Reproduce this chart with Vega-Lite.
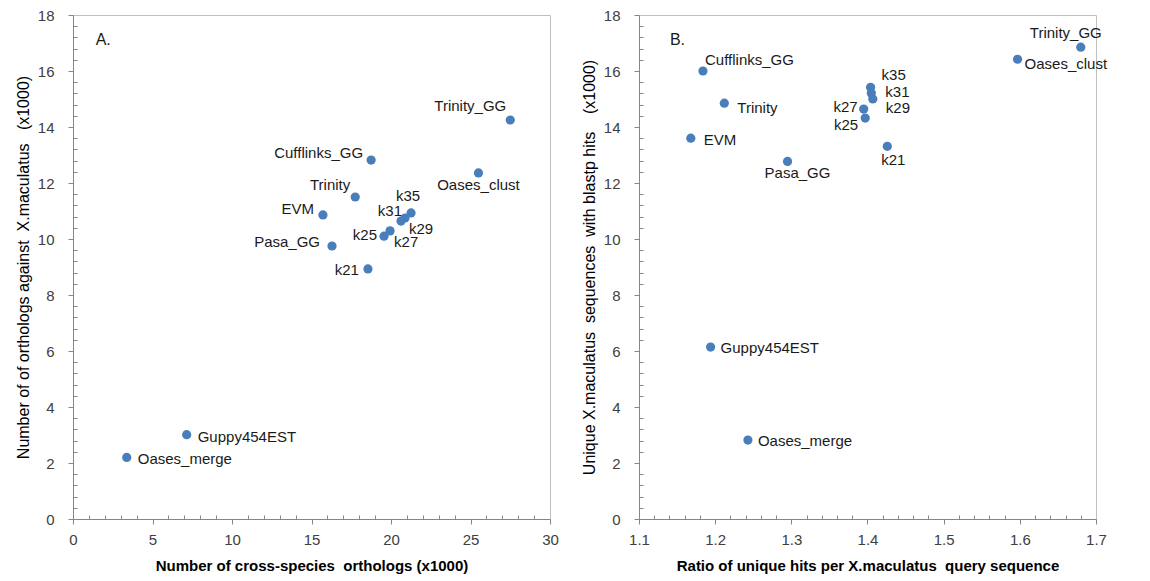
{
  "$schema": "https://vega.github.io/schema/vega-lite/v6.json",
  "background": "white",
  "padding": {"left": 14, "top": 7, "right": 5, "bottom": 5},
  "spacing": 21,
  "config": {
    "font": "Liberation Sans",
    "view": {"stroke": "#bfbfbf", "strokeWidth": 1},
    "axis": {"grid": false, "domainColor": "#868686", "tickColor": "#868686", "labelColor": "#404040", "labelFontSize": 15, "labelFont": "Liberation Sans", "titleFont": "Liberation Sans", "titleColor": "#000000", "labelOverlap": false, "labelFlush": false, "tickSize": 5},
    "text": {"font": "Liberation Sans", "fontSize": 15, "color": "#1a1a1a"}
  },
  "datasets": {
    "pts": [
      {"name": "Trinity_GG", "ax": 27.5, "ay": 14.25, "bx": 1.68, "by": 16.85},
      {"name": "Cufflinks_GG", "ax": 18.75, "ay": 12.82, "bx": 1.184, "by": 16.0},
      {"name": "Oases_clust", "ax": 25.5, "ay": 12.36, "bx": 1.597, "by": 16.42},
      {"name": "Trinity", "ax": 17.75, "ay": 11.5, "bx": 1.212, "by": 14.85},
      {"name": "EVM", "ax": 15.72, "ay": 10.86, "bx": 1.168, "by": 13.6},
      {"name": "k35", "ax": 21.26, "ay": 10.93, "bx": 1.404, "by": 15.42},
      {"name": "k31", "ax": 20.88, "ay": 10.75, "bx": 1.405, "by": 15.21},
      {"name": "k29", "ax": 20.63, "ay": 10.64, "bx": 1.407, "by": 15.0},
      {"name": "k27", "ax": 19.94, "ay": 10.29, "bx": 1.395, "by": 14.64},
      {"name": "k25", "ax": 19.56, "ay": 10.1, "bx": 1.397, "by": 14.32},
      {"name": "Pasa_GG", "ax": 16.29, "ay": 9.75, "bx": 1.295, "by": 12.77},
      {"name": "k21", "ax": 18.55, "ay": 8.93, "bx": 1.426, "by": 13.31},
      {"name": "Guppy454EST", "ax": 7.15, "ay": 3.01, "bx": 1.194, "by": 6.14},
      {"name": "Oases_merge", "ax": 3.38, "ay": 2.2, "bx": 1.243, "by": 2.82}
    ]
  },
  "hconcat": [
    {
      "width": 477,
      "height": 504,
      "resolve": {"axis": {"x": "independent", "y": "independent"}},
      "layer": [
        {
          "data": {"name": "pts"},
          "encoding": {
            "x": {"field": "ax", "type": "quantitative",
              "scale": {"domain": [0, 30], "nice": false, "zero": false},
              "axis": {"orient": "bottom", "title": "Number of cross-species\u00a0\u00a0orthologs (x1000)\u00a0\u00a0\u00a0\u00a0\u00a0\u00a0\u00a0", "titleFontSize": 15, "titleFontWeight": "bold", "titlePadding": 11, "labelPadding": 8,
                "values": [0, 5, 10, 15, 20, 25, 30], "format": "d"}},
            "y": {"field": "ay", "type": "quantitative",
              "scale": {"domain": [0, 18], "nice": false, "zero": false},
              "axis": {"orient": "left", "title": "Number of of orthologs against\u00a0\u00a0X.maculatus\u00a0\u00a0\u00a0(x1000)\u00a0\u00a0\u00a0\u00a0\u00a0", "titleFontSize": 16, "titleFontWeight": "normal", "titlePadding": 6, "labelPadding": 14,
                "values": [0, 2, 4, 6, 8, 10, 12, 14, 16, 18], "format": "d"}}
          },
          "layer": [
            {"mark": {"type": "circle", "size": 85, "color": "#4a7ebb", "opacity": 1}},
            {"transform": [{"filter": "datum.name === 'Trinity_GG'"}], "mark": {"type": "text", "align": "right", "baseline": "middle", "dx": -4, "dy": -14}, "encoding": {"text": {"field": "name"}}},
            {"transform": [{"filter": "datum.name === 'Cufflinks_GG'"}], "mark": {"type": "text", "align": "right", "baseline": "middle", "dx": -8, "dy": -7}, "encoding": {"text": {"field": "name"}}},
            {"transform": [{"filter": "datum.name === 'Oases_clust'"}], "mark": {"type": "text", "align": "center", "baseline": "middle", "dx": 0, "dy": 12}, "encoding": {"text": {"field": "name"}}},
            {"transform": [{"filter": "datum.name === 'Trinity'"}], "mark": {"type": "text", "align": "right", "baseline": "middle", "dx": -5, "dy": -12}, "encoding": {"text": {"field": "name"}}},
            {"transform": [{"filter": "datum.name === 'EVM'"}], "mark": {"type": "text", "align": "right", "baseline": "middle", "dx": -9, "dy": -6}, "encoding": {"text": {"field": "name"}}},
            {"transform": [{"filter": "datum.name === 'k35'"}], "mark": {"type": "text", "align": "center", "baseline": "middle", "dx": -3, "dy": -17}, "encoding": {"text": {"field": "name"}}},
            {"transform": [{"filter": "datum.name === 'k31'"}], "mark": {"type": "text", "align": "right", "baseline": "middle", "dx": -3, "dy": -7}, "encoding": {"text": {"field": "name"}}},
            {"transform": [{"filter": "datum.name === 'k29'"}], "mark": {"type": "text", "align": "left", "baseline": "middle", "dx": 8, "dy": 8}, "encoding": {"text": {"field": "name"}}},
            {"transform": [{"filter": "datum.name === 'k27'"}], "mark": {"type": "text", "align": "left", "baseline": "middle", "dx": 4, "dy": 11}, "encoding": {"text": {"field": "name"}}},
            {"transform": [{"filter": "datum.name === 'k25'"}], "mark": {"type": "text", "align": "right", "baseline": "middle", "dx": -7, "dy": -1}, "encoding": {"text": {"field": "name"}}},
            {"transform": [{"filter": "datum.name === 'Pasa_GG'"}], "mark": {"type": "text", "align": "right", "baseline": "middle", "dx": -12, "dy": -4}, "encoding": {"text": {"field": "name"}}},
            {"transform": [{"filter": "datum.name === 'k21'"}], "mark": {"type": "text", "align": "right", "baseline": "middle", "dx": -9, "dy": 1}, "encoding": {"text": {"field": "name"}}},
            {"transform": [{"filter": "datum.name === 'Guppy454EST' || datum.name === 'Oases_merge'"}], "mark": {"type": "text", "align": "left", "baseline": "middle", "dx": 11, "dy": 2}, "encoding": {"text": {"field": "name"}}},
            {"data": {"values": [{"tag": "A.", "ax": 1.9, "ay": 17.09}]}, "mark": {"type": "text", "align": "center", "baseline": "middle", "fontSize": 16}, "encoding": {"text": {"field": "tag"}}}
          ]
        },
        {
          "data": {"name": "pts"},
          "mark": {"type": "circle", "opacity": 0},
          "encoding": {
            "x": {"field": "ax", "type": "quantitative",
              "scale": {"domain": [0, 30], "nice": false, "zero": false},
              "axis": {"orient": "bottom", "title": null, "labels": false, "domain": false, "tickSize": -4,
                "values": [1,2,3,4,6,7,8,9,11,12,13,14,16,17,18,19,21,22,23,24,26,27,28,29]}},
            "y": {"field": "ay", "type": "quantitative",
              "scale": {"domain": [0, 18], "nice": false, "zero": false},
              "axis": {"orient": "left", "title": null, "labels": false, "domain": false, "tickSize": -4,
                "values": [0.4,0.8,1.2,1.6,2.4,2.8,3.2,3.6,4.4,4.8,5.2,5.6,6.4,6.8,7.2,7.6,8.4,8.8,9.2,9.6,10.4,10.8,11.2,11.6,12.4,12.8,13.2,13.6,14.4,14.8,15.2,15.6,16.4,16.8,17.2,17.6]}}
          }
        }
      ]
    },
    {
      "width": 457,
      "height": 504,
      "resolve": {"axis": {"x": "independent", "y": "independent"}},
      "layer": [
        {
          "data": {"name": "pts"},
          "encoding": {
            "x": {"field": "bx", "type": "quantitative",
              "scale": {"domain": [1.1, 1.7], "nice": false, "zero": false},
              "axis": {"orient": "bottom", "title": "Ratio of unique hits per X.maculatus\u00a0\u00a0query sequence\u00a0\u00a0\u00a0\u00a0", "titleFontSize": 15, "titleFontWeight": "bold", "titlePadding": 11, "labelPadding": 8,
                "values": [1.1, 1.2, 1.3, 1.4, 1.5, 1.6, 1.7], "format": ".1f"}},
            "y": {"field": "by", "type": "quantitative",
              "scale": {"domain": [0, 18], "nice": false, "zero": false},
              "axis": {"orient": "left", "title": "Unique X.maculatus\u00a0\u00a0sequences\u00a0\u00a0with blastp hits\u00a0\u00a0\u00a0\u00a0(x1000)", "titleFontSize": 16, "titleFontWeight": "normal", "titlePadding": 6, "labelPadding": 14,
                "values": [0, 2, 4, 6, 8, 10, 12, 14, 16, 18], "format": "d"}}
          },
          "layer": [
            {"mark": {"type": "circle", "size": 85, "color": "#4a7ebb", "opacity": 1}},
            {"transform": [{"filter": "datum.name === 'Trinity_GG'"}], "mark": {"type": "text", "align": "center", "baseline": "middle", "dx": -15, "dy": -14}, "encoding": {"text": {"field": "name"}}},
            {"transform": [{"filter": "datum.name === 'Oases_clust'"}], "mark": {"type": "text", "align": "left", "baseline": "middle", "dx": 7, "dy": 5}, "encoding": {"text": {"field": "name"}}},
            {"transform": [{"filter": "datum.name === 'k35'"}], "mark": {"type": "text", "align": "left", "baseline": "middle", "dx": 11, "dy": -12}, "encoding": {"text": {"field": "name"}}},
            {"transform": [{"filter": "datum.name === 'k31'"}], "mark": {"type": "text", "align": "left", "baseline": "middle", "dx": 14, "dy": -1}, "encoding": {"text": {"field": "name"}}},
            {"transform": [{"filter": "datum.name === 'k29'"}], "mark": {"type": "text", "align": "left", "baseline": "middle", "dx": 13, "dy": 9}, "encoding": {"text": {"field": "name"}}},
            {"transform": [{"filter": "datum.name === 'k27'"}], "mark": {"type": "text", "align": "right", "baseline": "middle", "dx": -6, "dy": -2}, "encoding": {"text": {"field": "name"}}},
            {"transform": [{"filter": "datum.name === 'k25'"}], "mark": {"type": "text", "align": "right", "baseline": "middle", "dx": -7, "dy": 7}, "encoding": {"text": {"field": "name"}}},
            {"transform": [{"filter": "datum.name === 'k21'"}], "mark": {"type": "text", "align": "center", "baseline": "middle", "dx": 6, "dy": 14}, "encoding": {"text": {"field": "name"}}},
            {"transform": [{"filter": "datum.name === 'Cufflinks_GG'"}], "mark": {"type": "text", "align": "left", "baseline": "middle", "dx": 2, "dy": -11}, "encoding": {"text": {"field": "name"}}},
            {"transform": [{"filter": "datum.name === 'Trinity'"}], "mark": {"type": "text", "align": "left", "baseline": "middle", "dx": 13, "dy": 5}, "encoding": {"text": {"field": "name"}}},
            {"transform": [{"filter": "datum.name === 'EVM'"}], "mark": {"type": "text", "align": "left", "baseline": "middle", "dx": 13, "dy": 2}, "encoding": {"text": {"field": "name"}}},
            {"transform": [{"filter": "datum.name === 'Pasa_GG'"}], "mark": {"type": "text", "align": "center", "baseline": "middle", "dx": 10, "dy": 12}, "encoding": {"text": {"field": "name"}}},
            {"transform": [{"filter": "datum.name === 'Guppy454EST' || datum.name === 'Oases_merge'"}], "mark": {"type": "text", "align": "left", "baseline": "middle", "dx": 10, "dy": 1}, "encoding": {"text": {"field": "name"}}},
            {"data": {"values": [{"tag": "B.", "bx": 1.1505, "by": 17.09}]}, "mark": {"type": "text", "align": "center", "baseline": "middle", "fontSize": 16}, "encoding": {"text": {"field": "tag"}}}
          ]
        },
        {
          "data": {"name": "pts"},
          "mark": {"type": "circle", "opacity": 0},
          "encoding": {
            "x": {"field": "bx", "type": "quantitative",
              "scale": {"domain": [1.1, 1.7], "nice": false, "zero": false},
              "axis": {"orient": "bottom", "title": null, "labels": false, "domain": false, "tickSize": -4,
                "values": [1.12,1.14,1.16,1.18,1.22,1.24,1.26,1.28,1.32,1.34,1.36,1.38,1.42,1.44,1.46,1.48,1.52,1.54,1.56,1.58,1.62,1.64,1.66,1.68]}},
            "y": {"field": "by", "type": "quantitative",
              "scale": {"domain": [0, 18], "nice": false, "zero": false},
              "axis": {"orient": "left", "title": null, "labels": false, "domain": false, "tickSize": -4,
                "values": [0.4,0.8,1.2,1.6,2.4,2.8,3.2,3.6,4.4,4.8,5.2,5.6,6.4,6.8,7.2,7.6,8.4,8.8,9.2,9.6,10.4,10.8,11.2,11.6,12.4,12.8,13.2,13.6,14.4,14.8,15.2,15.6,16.4,16.8,17.2,17.6]}}
          }
        }
      ]
    }
  ]
}
